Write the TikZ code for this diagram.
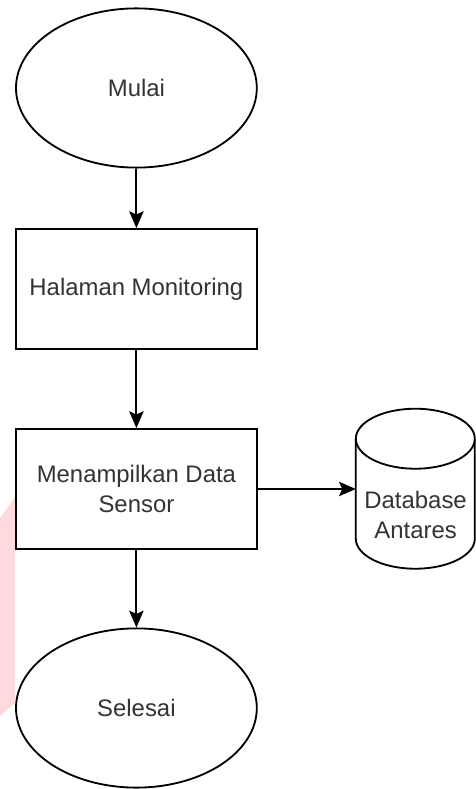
\documentclass[tikz,border=0pt]{standalone}
\usepackage{fontspec}
\setmainfont{Liberation Sans}
\usepackage{tikz}
\usetikzlibrary{arrows.meta}
\usetikzlibrary{shapes.geometric}

\definecolor{labelgray}{HTML}{333333}
\definecolor{markpink}{HTML}{FFD9DC}

\begin{document}
\begin{tikzpicture}[
    terminal/.style={draw, ellipse, line width=1.3pt, fill=white,
        minimum width=6.02cm, minimum height=3.98cm, inner sep=0pt},
    process/.style={draw, rectangle, line width=1.3pt, fill=white,
        minimum width=6.03cm, minimum height=3cm, inner sep=0pt, align=center},
    flow/.style={line width=1.3pt, -{Stealth[length=0.42cm,width=0.36cm,inset=0.08cm]}},
    every node/.style={text=labelgray, font=\fontsize{17}{21.3}\selectfont}
]

\useasboundingbox (0,0) rectangle (11.9,-19.725);
\fill[markpink] (0,-12.95) -- (0.375,-12.425) -- (0.375,-17.575) -- (0,-17.9) -- cycle;

\node[terminal] at (3.41, -2.2) (mulai) {Mulai};
\node[process] at (3.41, -7.225) (halaman) {Halaman Monitoring};
\node[process] at (3.41, -12.225) (tampil) {Menampilkan Data\\Sensor};
\node[terminal] at (3.41, -17.7) (selesai) {Selesai};

% database cylinder
\node[minimum width=2.975cm, minimum height=4cm, inner sep=0pt] at (10.39, -12.225) (db) {};
\draw[line width=1.3pt, fill=white] (db.north west) ++(0,-0.75) -- ++(0,-2.5)
    arc[start angle=180, end angle=360, x radius=1.4875cm, y radius=0.75cm]
    -- ++(0,2.5)
    arc[start angle=0, end angle=180, x radius=1.4875cm, y radius=0.75cm] -- cycle;
\draw[line width=1.3pt] (db.north west) ++(0,-0.75)
    arc[start angle=180, end angle=360, x radius=1.4875cm, y radius=0.75cm];
\node[align=center] at ([yshift=-0.65cm]db.center) (dbtext) {Database\\Antares};

\draw[flow] (mulai) -- (halaman);
\draw[flow] (halaman) -- (tampil);
\draw[flow] (tampil) -- (db);
\draw[flow] (tampil) -- (selesai);
\end{tikzpicture}
\end{document}
